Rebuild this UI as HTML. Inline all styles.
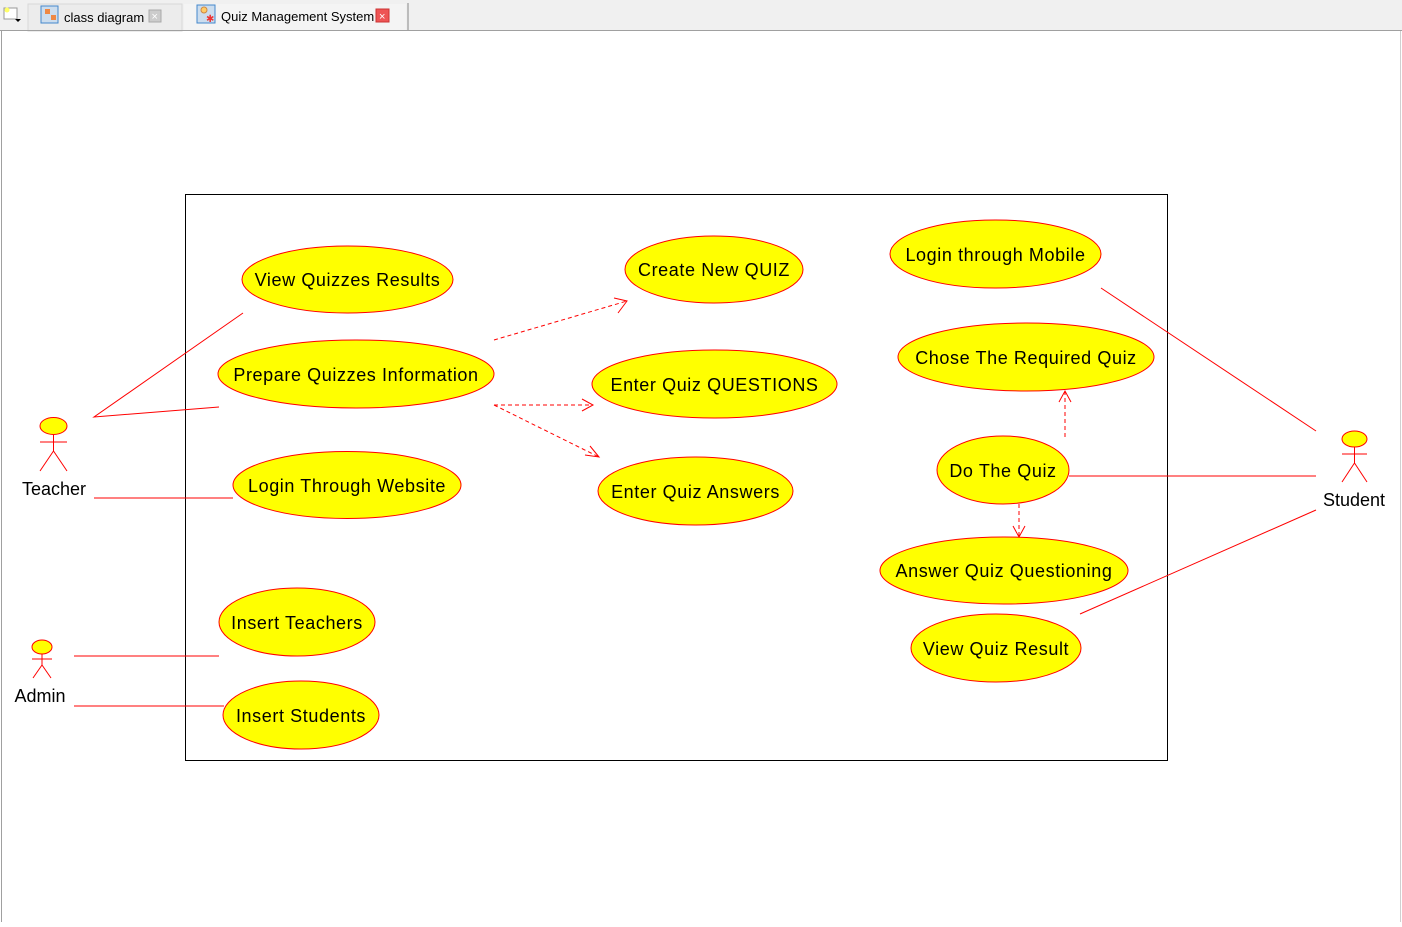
<!DOCTYPE html>
<html><head><meta charset="utf-8"><style>
body{margin:0;width:1402px;height:922px;overflow:hidden;background:#fff;font-family:"Liberation Sans",sans-serif}
</style></head><body>
<svg width="1402" height="922" xmlns="http://www.w3.org/2000/svg" font-family="Liberation Sans, sans-serif">
<rect x="0" y="0" width="1402" height="31" fill="#f0f0f0"/>
<rect x="28" y="4" width="154" height="27" fill="#ececec" stroke="#d8d8d8"/>
<rect x="184" y="4" width="222" height="27" fill="#f4f4f4"/>
<line x1="408" y1="3" x2="408" y2="30" stroke="#888"/>
<line x1="0" y1="30.5" x2="1402" y2="30.5" stroke="#a0a0a0"/>
<line x1="1.5" y1="31" x2="1.5" y2="922" stroke="#a0a0a0"/>
<line x1="1400.5" y1="31" x2="1400.5" y2="922" stroke="#d0d0d0"/>
<rect x="4" y="8" width="13" height="11" fill="#fff" stroke="#999"/><circle cx="7" cy="10" r="2.5" fill="#ff6"/>
<path d="M15 19 l3 3 l3 -3z" fill="#000"/>
<rect x="41" y="6" width="17" height="17" fill="#cde" stroke="#48c"/><rect x="45" y="9" width="5" height="5" fill="#e84"/><rect x="51" y="15" width="5" height="5" fill="#e84"/>
<text x="64" y="22" font-size="13">class diagram</text>
<rect x="149" y="10" width="12" height="12" fill="#ccc" stroke="#aaa"/><text x="151.5" y="20" font-size="11" fill="#fff">×</text>
<rect x="197" y="5" width="18" height="18" fill="#cde" stroke="#48c"/><circle cx="204" cy="10" r="3" fill="#fc6" stroke="#c84"/><text x="206" y="22" font-size="10" fill="#e33">✱</text>
<text x="221" y="21" font-size="13">Quiz Management System</text>
<rect x="376" y="9" width="13" height="13" fill="#e55" stroke="#c33"/><text x="379" y="20" font-size="11" fill="#fff">×</text>

<rect x="185.5" y="194.5" width="982" height="566" fill="none" stroke="#000"/>

<g stroke="#f00" stroke-width="1" fill="none">
<polyline points="243,313 94,417 219,407"/>
<line x1="94" y1="498" x2="233" y2="498"/>
<line x1="74" y1="656" x2="219" y2="656"/>
<line x1="74" y1="706" x2="224" y2="706"/>
<line x1="1101" y1="288" x2="1316" y2="431"/>
<line x1="1069" y1="476" x2="1316" y2="476"/>
<line x1="1080" y1="614" x2="1316" y2="510"/>
<g stroke-dasharray="4,3">
<line x1="494" y1="340" x2="627" y2="301"/>
<line x1="494" y1="405" x2="593" y2="405"/>
<line x1="494" y1="405" x2="599" y2="457"/>
<line x1="1065" y1="437" x2="1065" y2="391"/>
<line x1="1019" y1="504" x2="1019" y2="537"/>
</g>
<polyline points="614,298 627,301 618,313"/>
<polyline points="582,399 593,405 582,411"/>
<polyline points="585,455 599,457 590,446"/>
<polyline points="1059,402 1065,391 1071,402"/>
<polyline points="1013,526 1019,537 1025,526"/>
</g>

<g fill="#ffff00" stroke="#f00">
<ellipse cx="347.5" cy="279.5" rx="105.5" ry="33.5"/>
<ellipse cx="356" cy="374" rx="138" ry="34"/>
<ellipse cx="347" cy="485" rx="114" ry="33.5"/>
<ellipse cx="297" cy="622" rx="78" ry="34"/>
<ellipse cx="301" cy="715" rx="78" ry="34"/>
<ellipse cx="714" cy="269.5" rx="89" ry="33.5"/>
<ellipse cx="714.5" cy="384" rx="122.5" ry="34"/>
<ellipse cx="695.5" cy="491" rx="97.5" ry="34"/>
<ellipse cx="995.5" cy="254" rx="105.5" ry="34"/>
<ellipse cx="1026" cy="357" rx="128" ry="34"/>
<ellipse cx="1003" cy="470" rx="66" ry="34"/>
<ellipse cx="1004" cy="570.5" rx="124" ry="33.5"/>
<ellipse cx="996" cy="648" rx="85" ry="34"/>
<ellipse cx="53.5" cy="426" rx="13.5" ry="8.5"/>
<ellipse cx="1354.5" cy="439" rx="12.5" ry="8"/>
<ellipse cx="42" cy="647" rx="10" ry="7"/>
</g>
<g stroke="#f00" fill="none">
<path d="M53.5 435 V451 M40 442 H67 M53.5 451 L40 471 M53.5 451 L67 471"/>
<path d="M1354.5 447 V463 M1342 454 H1367 M1354.5 463 L1342 482 M1354.5 463 L1367 482"/>
<path d="M42 654 V665 M32 659 H52 M42 665 L33 678 M42 665 L51 678"/>
</g>

<g font-size="18" text-anchor="middle" fill="#000" letter-spacing="0.6">
<text x="347.5" y="286">View Quizzes Results</text>
<text x="356" y="381">Prepare Quizzes Information</text>
<text x="347" y="492">Login Through Website</text>
<text x="297" y="629">Insert Teachers</text>
<text x="301" y="722">Insert Students</text>
<text x="714" y="276">Create New QUIZ</text>
<text x="714.5" y="391">Enter Quiz QUESTIONS</text>
<text x="695.5" y="498">Enter Quiz Answers</text>
<text x="995.5" y="261">Login through Mobile</text>
<text x="1026" y="364">Chose The Required Quiz</text>
<text x="1003" y="477">Do The Quiz</text>
<text x="1004" y="577">Answer Quiz Questioning</text>
<text x="996" y="655">View Quiz Result</text>
</g>
<g font-size="18" text-anchor="middle" fill="#000">
<text x="54" y="495">Teacher</text>
<text x="1354" y="506">Student</text>
<text x="40" y="702">Admin</text>
</g>
</svg>
</body></html>
